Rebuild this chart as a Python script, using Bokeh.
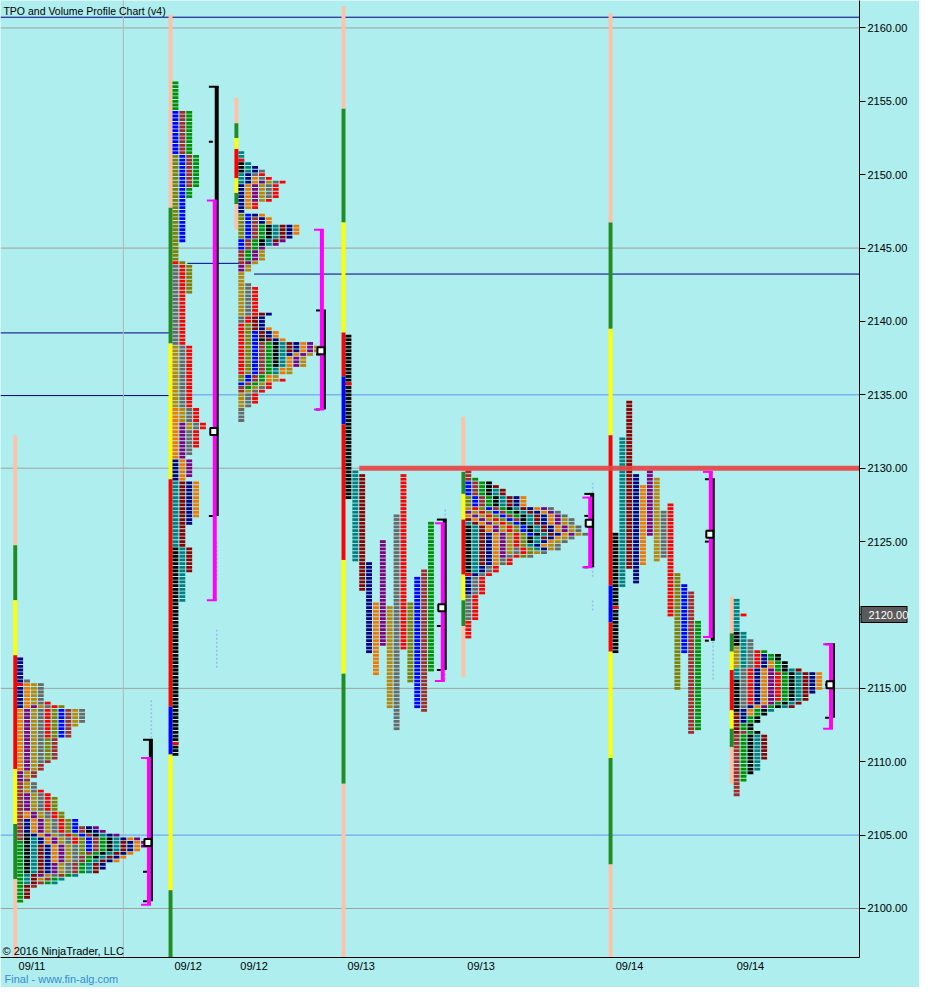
import numpy as np
from bokeh.plotting import figure
from bokeh.models import Range1d, FixedTicker, Label, PrintfTickFormatter, LinearAxis
from bokeh.embed import file_html
from bokeh.resources import INLINE

# ------------------------------------------------------------------ data
price_tick = 0.25
last_price = 2120.00
price_ticks = [2100, 2105, 2110, 2115, 2120, 2125, 2130, 2135, 2140, 2145, 2150, 2155, 2160]
date_tick_x = [32, 191, 258, 367, 489, 640, 763]
date_tick_text = ["09/11", "09/12", "09/12", "09/13", "09/13", "09/14", "09/14"]
caption_text = "Final - www.fin-alg.com"

# session position (first TPO column) and display mode
session_x = [17, 175, 242, 351, 473, 622.7, 746]
session_mode = ["collapsed", "collapsed", "collapsed", "split", "collapsed", "split", "collapsed"]

# TPO periods per session: colour name, low, high
A_color = ["navy", "orange", "purple", "goldenrod", "gray", "red", "olive", "blue", "brown", "green",
           "black", "teal", "darkred", "navy", "orange", "purple", "goldenrod", "gray", "red", "olive",
           "blue", "brown", "green", "black", "teal", "darkred", "navy", "orange", "purple", "goldenrod", "gray"]
A_low = [2113.75, 2109.5, 2108.75, 2109.0, 2110.0, 2111.75, 2110.25, 2111.75, 2104.75, 2100.5,
         2102.5, 2101.75, 2100.75, 2102.5, 2103.25, 2102.25, 2102.0, 2102.25, 2104.5, 2103.75,
         2104.0, 2101.5, 2101.75, 2103.5, 2101.75, 2102.5, 2102.75, 2103.25, 2104.25, 2112.5, 2112.75]
A_high = [2117.0, 2115.25, 2113.75, 2115.25, 2115.5, 2114.0, 2113.75, 2113.5, 2113.5, 2104.5,
          2105.0, 2104.75, 2104.25, 2106.0, 2106.5, 2107.75, 2108.5, 2108.5, 2108.0, 2107.5,
          2106.0, 2105.5, 2104.75, 2105.25, 2105.0, 2104.5, 2105.5, 2104.75, 2105.5, 2113.5, 2113.5]

B_color = ["black", "teal", "darkred", "navy", "orange", "purple", "goldenrod", "gray", "red",
           "olive", "blue", "brown", "green"]
B_low = [2110.5, 2121.0, 2123.0, 2126.25, 2126.75, 2129.5, 2132.75, 2131.0, 2131.5,
         2142.0, 2145.5, 2149.25, 2148.5]
B_high = [2124.5, 2129.0, 2129.0, 2130.5, 2134.0, 2133.0, 2138.25, 2143.75, 2144.0,
          2151.25, 2154.25, 2154.25, 2156.25]

C_color = ["black", "teal", "navy", "orange", "purple", "goldenrod", "gray", "red", "olive", "blue",
           "brown", "green", "black", "teal", "darkred", "navy", "orange", "purple", "goldenrod", "gray",
           "red", "olive", "blue", "brown", "green", "black", "teal", "darkred", "navy", "orange",
           "purple", "goldenrod", "gray", "red"]
C_low = [2150.25, 2149.5, 2147.5, 2147.75, 2148.25, 2148.25, 2148.5, 2147.75, 2145.75, 2145.0,
         2144.0, 2144.25, 2145.25, 2145.25, 2145.5, 2145.75, 2146.0, 2143.5, 2140.5, 2140.0,
         2136.5, 2136.0, 2135.75, 2135.25, 2135.5, 2137.0, 2136.5, 2138.0, 2137.75, 2136.0,
         2137.0, 2134.25, 2133.25, 2134.5]
C_high = [2150.75, 2151.5, 2150.5, 2149.75, 2149.5, 2149.5, 2150.25, 2150.0, 2147.25, 2147.25,
          2147.0, 2146.5, 2146.5, 2146.5, 2146.5, 2147.25, 2147.25, 2145.5, 2144.75, 2142.5,
          2142.25, 2139.75, 2139.25, 2138.5, 2138.5, 2138.75, 2138.5, 2140.5, 2140.5, 2139.5,
          2138.5, 2138.25, 2135.5, 2136.0]

D_color = ["black", "teal", "darkred", "navy", "orange", "purple", "goldenrod", "gray", "red",
           "olive", "blue", "brown", "green"]
D_low = [2128.0, 2123.75, 2121.75, 2117.5, 2116.0, 2118.0, 2113.75, 2112.25, 2117.75,
         2115.5, 2113.75, 2113.5, 2116.25]
D_high = [2139.0, 2129.75, 2129.5, 2123.5, 2120.75, 2125.0, 2120.5, 2126.75, 2129.5,
          2120.75, 2122.5, 2123.0, 2126.25]

E_color = ["black", "teal", "darkred", "navy", "orange", "purple", "goldenrod", "gray", "red", "olive",
           "blue", "brown", "green", "black", "teal", "darkred", "navy", "orange", "purple", "goldenrod", "gray"]
E_low = [2122.75, 2123.0, 2123.5, 2121.5, 2123.5, 2124.0, 2124.25, 2119.75, 2118.5, 2124.0,
         2125.5, 2126.5, 2126.75, 2125.0, 2124.5, 2125.25, 2124.5, 2124.75, 2125.5, 2124.25, 2124.0]
E_high = [2126.0, 2126.25, 2126.5, 2125.5, 2126.75, 2127.0, 2127.25, 2124.5, 2127.25, 2128.0,
          2129.0, 2129.75, 2129.25, 2129.0, 2128.5, 2128.75, 2128.0, 2128.0, 2127.25, 2126.5, 2127.25]

F_color = ["black", "teal", "darkred", "navy", "orange", "purple", "goldenrod", "gray", "red",
           "olive", "blue", "brown", "green"]
F_low = [2117.5, 2122.0, 2123.25, 2122.25, 2123.5, 2125.5, 2123.75, 2124.0, 2120.0,
         2115.0, 2117.5, 2112.0, 2112.25]
F_high = [2125.5, 2132.0, 2134.5, 2129.5, 2128.75, 2129.75, 2129.25, 2127.0, 2127.5,
          2122.75, 2122.0, 2121.5, 2119.5]

G_color = ["teal", "black", "goldenrod", "teal", "black", "darkred", "brown", "gray", "red", "navy",
           "orange", "purple", "red", "green", "black", "teal", "darkred", "teal", "darkred", "navy", "orange"]
G_low = [2119.0, 2118.0, 2116.5, 2115.75, 2113.5, 2112.0, 2107.75, 2113.75, 2114.0, 2112.75,
         2113.25, 2113.75, 2114.25, 2108.75, 2109.25, 2109.5, 2110.25, 2113.5, 2113.75, 2114.75, 2115.0]
G_high = [2121.0, 2118.75, 2117.75, 2118.75, 2115.5, 2113.25, 2112.0, 2118.25, 2117.5, 2117.25,
          2116.75, 2116.25, 2116.0, 2117.5, 2117.25, 2111.75, 2111.75, 2116.25, 2116.25, 2116.0, 2116.0]

open_price = [2115.25, 2111.25, 2151.0, 2135.75, 2122.75, 2120.5, 2120.0]
open_col = [0, 0, 0, 0, 0, 0, 1]

# session range bars: price edges (top -> bottom) and zone names
A_bar_edges = [2132.25, 2124.75, 2121.0, 2117.25, 2109.5, 2105.75, 2102.0, 2090.0]
A_bar_zone = ["out", "mid", "near", "core", "near", "mid", "out"]
B_bar_edges = [2160.9, 2147.75, 2138.5, 2129.25, 2113.75, 2110.5, 2101.25, 2090.0]
B_bar_zone = ["out", "mid", "near", "core", "ib", "near", "mid"]
C_bar_edges = [2155.25, 2153.5, 2152.5, 2151.75, 2149.75, 2148.75, 2148.0, 2146.25]
C_bar_zone = ["out", "mid", "near", "core", "near", "mid", "out"]
D_bar_edges = [2161.5, 2154.5, 2146.75, 2139.25, 2136.25, 2133.0, 2123.75, 2116.0, 2108.5, 2090.0]
D_bar_zone = ["out", "mid", "near", "core", "ib", "core", "near", "mid", "out"]
E_bar_edges = [2133.5, 2129.75, 2128.25, 2126.5, 2122.75, 2121.0, 2119.25, 2115.75]
E_bar_zone = ["out", "mid", "near", "core", "near", "mid", "out"]
F_bar_edges = [2161.0, 2146.75, 2139.5, 2132.25, 2122.0, 2119.5, 2117.5, 2110.25, 2103.0, 2090.0]
F_bar_zone = ["out", "mid", "near", "core", "ib", "core", "near", "mid", "out"]
G_bar_edges = [2121.25, 2118.75, 2117.5, 2116.25, 2113.5, 2112.25, 2111.0, 2108.5]
G_bar_zone = ["out", "mid", "near", "core", "near", "mid", "out"]

# value areas (TPO = magenta, volume = black), extra volume tick and POC
va_x = [149, 216, 325, 448, 598, 720.7, 843]
tpo_va_high = [2110.25, 2148.25, 2146.25, 2126.25, 2128.0, 2129.75, 2118.0]
tpo_va_low = [2100.25, 2121.0, 2134.0, 2115.5, 2123.25, 2118.5, 2112.25]
vol_va_high = [2111.5, 2156.0, 2140.75, 2126.5, 2128.25, 2129.25, 2118.0]
vol_va_low = [2100.5, 2126.75, 2134.0, 2116.25, 2123.25, 2118.25, 2113.0]
vol_mid = [2102.5, 2152.25, 2137.75, 2119.25, 2126.75, 2125.0, 2115.25]
poc_price = [2104.5, 2132.5, 2138.0, 2120.5, 2126.25, 2125.5, 2115.25]

# faint volume-node traces (x, low, high)
trace_x = [153.5, 220, 220, 452.5, 452.5, 602.5, 602.5, 725]
trace_low = [2111.6, 2122.4, 2116.4, 2126.5, 2115.6, 2122.6, 2120.3, 2115.6]
trace_high = [2114.3, 2125.1, 2119.1, 2127.3, 2119.8, 2129.0, 2121.0, 2125.3]

# reference levels
level_price = [2160.73, 2160.0, 2145.0, 2143.96, 2143.23, 2139.22, 2134.95, 2135.0, 2130.0, 2115.0, 2105.0, 2100.0, 2130.0]
level_x0 = [0, 0, 0, 190, 258, 0, 0, 172, 0, 0, 0, 0, 365]
level_x1 = [874, 874, 874, 245, 874, 172, 172, 874, 874, 874, 874, 874, 874]
level_kind = ["prior", "round", "round", "prior", "prior", "prior", "prior", "half", "round", "round", "half", "round", "key"]
vline_x = [125]

# ------------------------------------------------------------------ styles
TPO_PAL = {"black": "#000000", "teal": "#008080", "darkred": "#8b0000", "navy": "#000080",
           "orange": "#f07800", "purple": "#800080", "goldenrod": "#b8860b", "gray": "#696969",
           "red": "#ff0000", "olive": "#808000", "blue": "#0000ff", "brown": "#a52a2a", "green": "#009000"}
ZONE_PAL = {"out": "#ffc2a8", "mid": "#228b22", "near": "#ffff00", "core": "#ff0000", "ib": "#0000ff"}
LEVEL_STYLE = {"prior": ("#000080", 1, 1.0), "round": ("#a0a0a0", 1, 1.0),
               "half": ("#6495ed", 1, 1.0), "key": ("#e64646", 5, 0.92)}
BG = "#afeeee"
FONT = "Liberation Sans"
CELL_W, COL_PITCH, CELL_H = 6.0, 7.0, 0.19
BAR_W = 4.0
FRAME_W = 859
CAPTION_X = 62

p = figure(width=919, height=987, x_range=Range1d(0, 874), y_range=Range1d(2096.66, 2161.87),
           y_axis_location="right", output_backend="svg", toolbar_location=None,
           min_border_left=0, min_border_top=0, min_border_right=919 - FRAME_W, min_border_bottom=0,
           background_fill_color=BG, border_fill_color=BG, outline_line_color=None)
p.grid.visible = False

# levels
for pr, x0, x1, kind in zip(level_price, level_x0, level_x1, level_kind):
    if kind == "key":
        continue
    col, w, a = LEVEL_STYLE[kind]
    p.segment(x0=[x0], y0=[pr], x1=[x1], y1=[pr], line_color=col, line_width=w, line_alpha=a)
for vx in vline_x:
    p.segment(x0=[vx], y0=[2090], x1=[vx], y1=[2170], line_color="#b4b4b4", line_width=1)
p.segment(x0=trace_x, y0=trace_low, x1=trace_x, y1=trace_high, line_color="#9fb8f5",
          line_width=1.5, line_dash="2 2")

# session bars
bar_sets = [(A_bar_edges, A_bar_zone), (B_bar_edges, B_bar_zone), (C_bar_edges, C_bar_zone),
            (D_bar_edges, D_bar_zone), (E_bar_edges, E_bar_zone), (F_bar_edges, F_bar_zone),
            (G_bar_edges, G_bar_zone)]
bl, br, bb, bt, bc = [], [], [], [], []
for sx, (edges, zones) in zip(session_x, bar_sets):
    for i, z in enumerate(zones):
        bl.append(sx - BAR_W); br.append(sx); bt.append(edges[i]); bb.append(edges[i + 1])
        bc.append(ZONE_PAL[z])
p.quad(left=bl, right=br, bottom=bb, top=bt, fill_color=bc, line_color=None)

# TPO cells
profiles = [(A_color, A_low, A_high), (B_color, B_low, B_high), (C_color, C_low, C_high),
            (D_color, D_low, D_high), (E_color, E_low, E_high), (F_color, F_low, F_high),
            (G_color, G_low, G_high)]
cl, cp, cc = [], [], []
eps = 1e-6
for sx, mode, (cols, lows, highs) in zip(session_x, session_mode, profiles):
    if mode == "split":
        for k, (c, lo, hi) in enumerate(zip(cols, lows, highs)):
            n = int(round((hi - lo) / price_tick))
            for i in range(n + 1):
                cl.append(sx + k * COL_PITCH); cp.append(lo + i * price_tick); cc.append(TPO_PAL[c])
    else:
        pmin, pmax = min(lows), max(highs)
        n = int(round((pmax - pmin) / price_tick))
        for i in range(n + 1):
            pr = pmin + i * price_tick
            k = 0
            for c, lo, hi in zip(cols, lows, highs):
                if lo - eps <= pr <= hi + eps:
                    cl.append(sx + k * COL_PITCH); cp.append(pr); cc.append(TPO_PAL[c])
                    k += 1
for sx, op, oc in zip(session_x, open_price, open_col):
    cl.append(sx + oc * COL_PITCH); cp.append(op); cc.append(TPO_PAL["red"])
cl = np.array(cl); cp = np.array(cp)
p.quad(left=cl, right=cl + CELL_W, bottom=cp - CELL_H / 2, top=cp + CELL_H / 2,
       fill_color=cc, line_color=None)

# key level (drawn over profiles)
for pr, x0, x1, kind in zip(level_price, level_x0, level_x1, level_kind):
    if kind != "key":
        continue
    col, w, a = LEVEL_STYLE[kind]
    p.segment(x0=[x0], y0=[pr], x1=[x1], y1=[pr], line_color=col, line_width=w, line_alpha=a)

# value-area brackets
vx = np.array(va_x)
p.segment(x0=vx + 4, y0=vol_va_low, x1=vx + 4, y1=vol_va_high, line_color="black", line_width=4)
p.segment(x0=vx - 4, y0=vol_va_high, x1=vx + 6, y1=vol_va_high, line_color="black", line_width=2)
p.segment(x0=vx - 4, y0=vol_va_low, x1=vx, y1=vol_va_low, line_color="black", line_width=2)
p.segment(x0=vx - 4, y0=vol_mid, x1=vx, y1=vol_mid, line_color="black", line_width=2)
p.segment(x0=vx + 2, y0=tpo_va_low, x1=vx + 2, y1=tpo_va_high, line_color="#ff00ff", line_width=4)
p.segment(x0=vx - 6, y0=tpo_va_high, x1=vx + 4, y1=tpo_va_high, line_color="#ff00ff", line_width=2)
p.segment(x0=vx - 6, y0=tpo_va_low, x1=vx + 4, y1=tpo_va_low, line_color="#ff00ff", line_width=2)
p.scatter(x=vx + 1, y=poc_price, marker="square", size=7, fill_color="white",
          line_color="black", line_width=2)

# axes
p.yaxis.ticker = FixedTicker(ticks=price_ticks)
p.yaxis.formatter = PrintfTickFormatter(format="%.2f")
p.yaxis.major_tick_out = 6
p.yaxis.major_tick_in = 0
p.yaxis.minor_tick_out = 0
p.yaxis.minor_tick_in = 0
p.yaxis.major_label_standoff = 2
p.yaxis.axis_line_color = "black"
p.yaxis.major_tick_line_color = "black"
p.yaxis.major_label_text_font = FONT
p.yaxis.major_label_text_font_size = "11px"
p.yaxis.major_label_text_color = "black"

# last-price marker: extra right-hand axes whose single tick forms a bordered dark box
border_axis = LinearAxis(ticker=FixedTicker(ticks=[last_price]),
                         major_label_overrides={last_price: ""},
                         axis_line_color=None, major_tick_in=50, major_tick_out=-3,
                         major_tick_line_color="black", major_tick_line_width=17,
                         minor_tick_in=0, minor_tick_out=0, major_label_standoff=0,
                         major_label_text_font_size="1px")
p.add_layout(border_axis, "right")
price_axis = LinearAxis(ticker=FixedTicker(ticks=[last_price]),
                        formatter=PrintfTickFormatter(format="%.2f"),
                        axis_line_color=None, major_tick_in=49, major_tick_out=-4,
                        major_tick_line_color="#5a5a5a", major_tick_line_width=15,
                        minor_tick_in=0, minor_tick_out=0, major_label_standoff=-42,
                        major_label_text_color="white", major_label_text_font=FONT,
                        major_label_text_font_size="11px")
p.add_layout(price_axis, "right")

p.xaxis.ticker = FixedTicker(ticks=date_tick_x)
p.xaxis.major_label_overrides = {x: t for x, t in zip(date_tick_x, date_tick_text)}
p.xaxis.major_tick_out = 0
p.xaxis.major_tick_in = 0
p.xaxis.minor_tick_out = 0
p.xaxis.minor_tick_in = 0
p.xaxis.major_label_standoff = 2
p.xaxis.axis_line_color = "black"
p.xaxis.major_label_text_font = FONT
p.xaxis.major_label_text_font_size = "11px"
p.xaxis.major_label_text_color = "black"

# caption under the date labels, as a second bottom axis with one labelled tick
caption_axis = LinearAxis(ticker=FixedTicker(ticks=[CAPTION_X]),
                          major_label_overrides={CAPTION_X: caption_text},
                          axis_line_color=None, major_tick_in=0, major_tick_out=0,
                          minor_tick_in=0, minor_tick_out=0, major_label_standoff=-2,
                          major_label_text_color="#3a8ad0", major_label_text_font=FONT,
                          major_label_text_font_size="11px")
p.add_layout(caption_axis, "below")

# texts
p.add_layout(Label(x=3, y=2161.13, text="TPO and Volume Profile Chart (v4)", text_font=FONT,
                   text_font_size="10.5px", text_color="black", text_baseline="middle"))
p.add_layout(Label(x=2, y=2097.13, text="\u00a9 2016 NinjaTrader, LLC", text_font=FONT,
                   text_font_size="11px", text_color="black", text_baseline="middle"))

open("out.html", "w").write(file_html(p, INLINE))
